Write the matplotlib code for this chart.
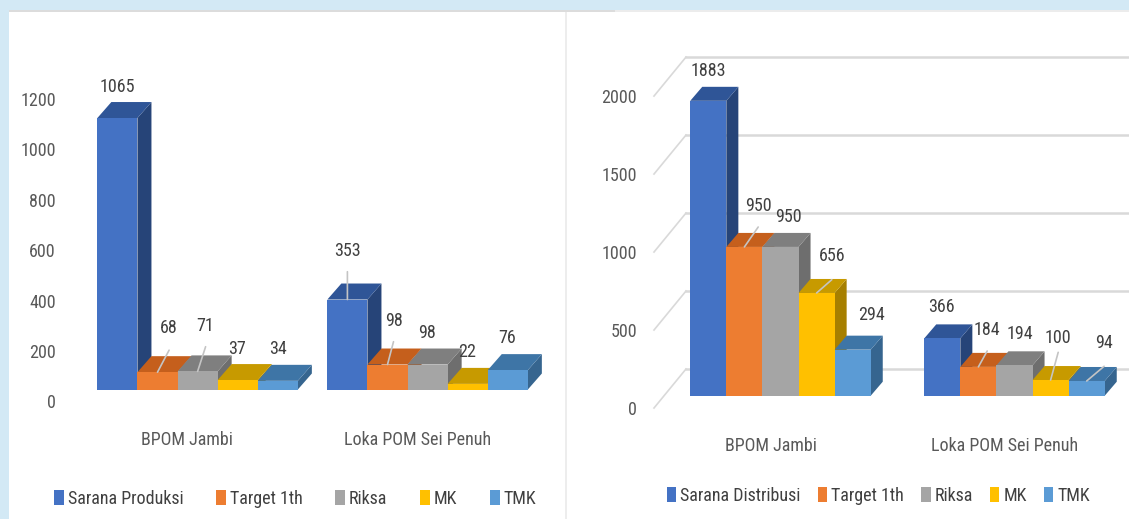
import numpy as np
import matplotlib
matplotlib.use('Agg')
import matplotlib.pyplot as plt
from matplotlib.patches import Polygon, Rectangle
from matplotlib.transforms import ScaledTranslation

W, H = 1129, 519
DPI = 100
FS = 13

plt.rcParams['font.family'] = ['Roboto Condensed', 'DejaVu Sans']

groups = ['BPOM Jambi', 'Loka POM Sei Penuh']

series_left = ['Sarana Produksi', 'Target 1th', 'Riksa', 'MK', 'TMK']
values_left = [[1065, 68, 71, 37, 34],
               [353, 98, 98, 22, 76]]
ticks_left = [0, 200, 400, 600, 800, 1000, 1200]

series_right = ['Sarana Distribusi', 'Target 1th', 'Riksa', 'MK', 'TMK']
values_right = [[1883, 950, 950, 656, 294],
                [366, 184, 194, 100, 94]]
ticks_right = [0, 500, 1000, 1500, 2000]

front_colors = ['#4472C4', '#ED7D31', '#A5A5A5', '#FFC000', '#5B9BD5']
top_colors = ['#2F5597', '#C55F1C', '#7F7F7F', '#C79A00', '#3E75A6']
side_colors = ['#264478', '#A9521A', '#6E6E6E', '#A67F00', '#36658F']

# label offsets from the bar top, in pixels (dx, up, leader gap)
labels_left = [[(0, 31, 0), (11.6, 44, 22), (8, 45.7, 21), (-0.6, 31, 0), (0, 32, 0)],
               [(0, 48.8, 21), (6, 43.8, 21), (-0.5, 31.8, 0), (-0.5, 32.2, 0), (-1, 32.1, 0)]]
labels_right = [[(0, 30.1, 0), (13.8, 40.9, 21), (7.6, 30.2, 0), (15.2, 37.3, 24), (19.2, 34.7, 0)],
                [(-0.4, 31.1, 0), (8.8, 36.9, 21), (5.3, 31.3, 0), (7.6, 41.7, 14), (17.4, 37.7, 23)]]


def px_axes(fig, x0, x1, y_top, y_bottom):
    return fig.add_axes([x0 / W, 1 - y_bottom / H, (x1 - x0) / W, (y_bottom - y_top) / H])


def draw_panel(fig, box, center0, spacing, bar_px, scale, dx_px, dy_px, values, labels, ticks,
               tick_ratio, tick_shift, xlabel_pad, xlabel_shift):
    x0, x1, y_top, y_bottom = box
    ax = px_axes(fig, x0, x1, y_top, y_bottom)
    ax.set_xlim((x0 - center0) / spacing, (x1 - center0) / spacing)
    ax.set_ylim(0, (y_bottom - y_top) / scale)
    ax.patch.set_alpha(0)
    for s in ax.spines.values():
        s.set_visible(False)

    w = bar_px / spacing
    dx = dx_px / spacing
    dy = dy_px / scale
    z = 5
    for g, row in enumerate(values):
        for i, v in enumerate(row):
            left = g + (i - 2.5) * w
            right = left + w
            ax.add_patch(Polygon([(right, 0), (right + dx, dy), (right + dx, v + dy), (right, v)],
                                 fc=side_colors[i], ec='none', zorder=z, clip_on=False))
            ax.add_patch(Polygon([(left, v), (right, v), (right + dx, v + dy), (left + dx, v + dy)],
                                 fc=top_colors[i], ec='none', zorder=z, clip_on=False))
            ax.bar(left + w / 2, v, w, color=front_colors[i], zorder=z + 0.5, clip_on=False)
            z += 1

            ox, oy, gap = labels[g][i]
            ax.annotate(str(v), xy=(left + w / 2, v), xytext=(ox, oy), textcoords='offset pixels',
                        ha='center', va='center', fontsize=FS, color='#404040', zorder=50)
            if gap:
                ax.annotate('', xy=(left + w / 2, v), xytext=(ox, oy - gap), textcoords='offset pixels',
                            arrowprops=dict(arrowstyle='-', color='#c4c4c4', lw=1.2, shrinkA=0, shrinkB=0),
                            zorder=49)

    ax.set_xticks([0, 1], labels=groups)
    ax.set_yticks(np.array(ticks) * tick_ratio, labels=[str(t) for t in ticks])
    ax.tick_params(axis='both', length=0, labelsize=FS, labelcolor='#595959')
    ax.tick_params(axis='x', pad=xlabel_pad)
    ax.tick_params(axis='y', pad=0)
    y_off = ScaledTranslation(0, -tick_shift / DPI, fig.dpi_scale_trans)
    for lab in ax.get_yticklabels():
        lab.set_transform(lab.get_transform() + y_off)
    x_off = ScaledTranslation(xlabel_shift / DPI, 0, fig.dpi_scale_trans)
    for lab in ax.get_xticklabels():
        lab.set_transform(lab.get_transform() + x_off)
    return ax


def draw_legend(fig, names, x_px, y_px, column_px):
    handles = [Rectangle((0, 0), 1, 1, fc=c, ec='none') for c in front_colors]
    em = FS * DPI / 72
    fig.legend(handles, names, ncol=5, frameon=False, loc='center left',
               bbox_to_anchor=(x_px / W, 1 - y_px / H), bbox_transform=fig.transFigure,
               fontsize=FS, labelcolor='#404040', borderpad=0, borderaxespad=0,
               handlelength=9.5 / em, handleheight=16 / em, handletextpad=4 / em,
               columnspacing=column_px / em)


fig = plt.figure(figsize=(W / DPI, H / DPI), dpi=DPI, facecolor='#d3e9f5')

# white panels
fig.add_artist(Rectangle((9 / W, 0), 1 - 9 / W, 1 - 11 / H, transform=fig.transFigure,
                         fc='white', ec='none', zorder=-3))
fig.add_artist(Rectangle((9 / W, 1 - 12 / H), 606 / W, 2 / H, transform=fig.transFigure,
                         fc='#dcdcdc', ec='none', zorder=-2))
fig.add_artist(Rectangle((615 / W, 1 - 12 / H), 514 / W, 2 / H, transform=fig.transFigure,
                         fc='#ececec', ec='none', zorder=-2))
fig.add_artist(Rectangle((565 / W, 0), 1.5 / W, 1 - 12 / H, transform=fig.transFigure,
                         fc='#ededed', ec='none', zorder=-2))

ax_left = draw_panel(fig, (56, 565, 12, 389.5), 197.6, 230, 40.1, 0.2549, 14, 16,
                     values_left, labels_left, ticks_left, 0.99, 12, 30, -10.5)

ax_right = draw_panel(fig, (637, 1129, 12, 395.7), 780.5, 234, 36.1, 0.1566, 12, 14,
                      values_right, labels_right, ticks_right, 0.996, 12.3, 30, -9.5)

# back wall gridlines and the slanted lines up to them (right chart only)
back = 26.7 / 0.1566
front = 12.3 / 0.1566
gx0 = (654 - 780.5) / 234
gx1 = (686 - 780.5) / 234
for t in ticks_right:
    tv = t * 0.996
    ax_right.plot([gx1, ax_right.get_xlim()[1]], [tv + back, tv + back], color='#d9d9d9', lw=1.8,
                  zorder=1, clip_on=False)
    ax_right.plot([gx0, gx1], [tv - front, tv + back], color='#d9d9d9', lw=1.2, zorder=1, clip_on=False)

draw_legend(fig, series_left, 54, 499, 33)
draw_legend(fig, series_right, 667, 496, 17)

fig.savefig('out.png', dpi=DPI, facecolor=fig.get_facecolor())
